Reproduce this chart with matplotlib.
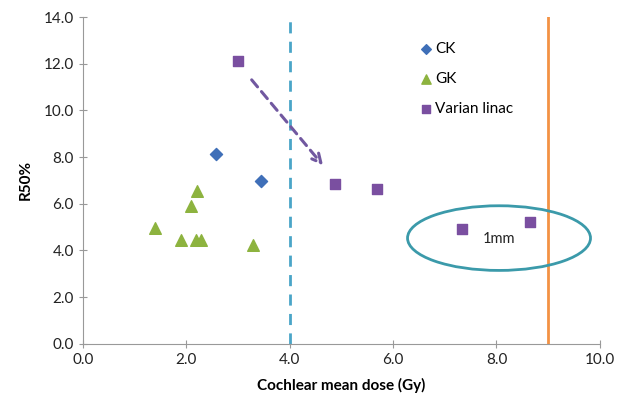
import numpy as np
import matplotlib.pyplot as plt
from matplotlib.patches import Ellipse

plt.rcParams['font.family'] = ['Lato', 'DejaVu Sans']

# 读图得到的数据
ck_dose = [2.57, 3.45]
ck_r50 = [8.12, 6.97]
gk_dose = [1.39, 2.2, 2.1, 1.89, 2.18, 2.29, 3.29]
gk_r50 = [4.95, 6.55, 5.9, 4.45, 4.45, 4.45, 4.25]
varian_dose = [3.0, 4.87, 5.69, 7.33, 8.65]
varian_r50 = [12.12, 6.85, 6.65, 4.94, 5.23]

x_ticks = [0, 2, 4, 6, 8, 10]
y_ticks = [0, 2, 4, 6, 8, 10, 12, 14]

fig = plt.figure(figsize=(6.19, 4.05), dpi=100)
ax = fig.add_axes([0.134, 0.151, 0.835, 0.807])

ax.scatter(ck_dose, ck_r50, marker='D', s=38, color='#3f6fb8', label='CK', zorder=3)
ax.scatter(gk_dose, gk_r50, marker='^', s=70, color='#8db33f', label='GK', zorder=3)
ax.scatter(varian_dose, varian_r50, marker='s', s=60, color='#7a4fa0', label='Varian linac', zorder=3)

# 参考线
ax.axvline(4.0, color='#4aa5c8', linewidth=2, linestyle=(0, (4, 3)), zorder=2)
ax.axvline(9.0, color='#f39244', linewidth=2, zorder=2)

# 虚线箭头
ax.annotate('', xy=(4.68, 7.55), xytext=(3.23, 11.4),
            arrowprops=dict(arrowstyle='->', color='#7158a0', lw=2.2,
                            linestyle=(0, (3, 2)), mutation_scale=16))

# 1mm 椭圆
ax.add_patch(Ellipse((8.05, 4.53), 3.54, 2.77, fill=False, edgecolor='#3b9aaa', linewidth=2, zorder=2))
ax.text(8.04, 4.5, '1mm', ha='center', va='center', fontsize=10.5, color='#222222')

ax.set_xlim(0, 10)
ax.set_ylim(0, 14)
ax.set_xticks(x_ticks)
ax.set_yticks(y_ticks)
ax.set_xticklabels(['{:.1f}'.format(v) for v in x_ticks], fontsize=11, color='#222222')
ax.set_yticklabels(['{:.1f}'.format(v) for v in y_ticks], fontsize=11, color='#222222')
ax.tick_params(direction='inout', length=6, color='#999999')
for side in ['top', 'right']:
    ax.spines[side].set_visible(False)
for side in ['left', 'bottom']:
    ax.spines[side].set_color('#999999')

ax.set_xlabel('Cochlear mean dose (Gy)', fontsize=11, fontweight='bold', labelpad=8)
ax.set_ylabel('R50%', fontsize=11, fontweight='bold', labelpad=8)

ax.legend(loc='upper left', bbox_to_anchor=(0.62, 0.965), frameon=False, fontsize=11,
          handletextpad=0.0, labelspacing=1.05, handlelength=1.2, markerscale=0.8)

fig.savefig('out.png', dpi=100)
